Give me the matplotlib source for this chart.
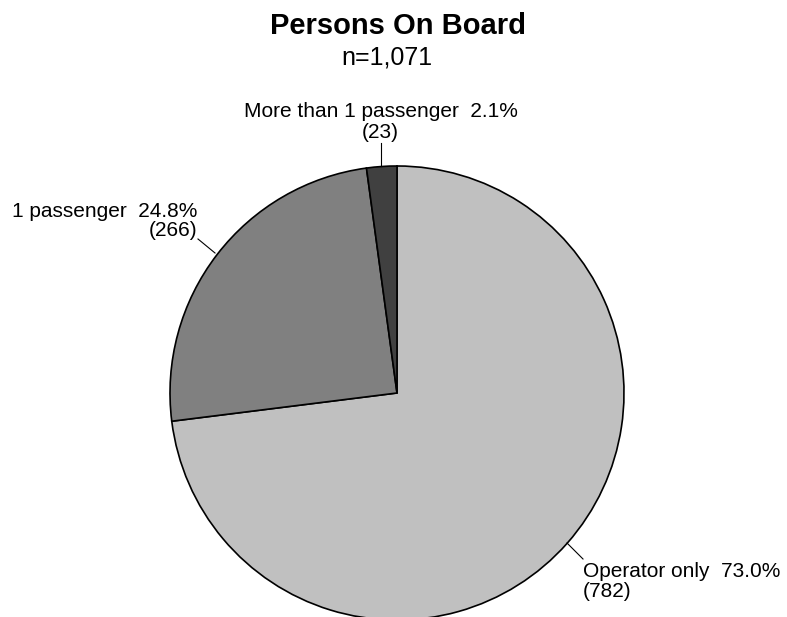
import matplotlib
matplotlib.use("Agg")
import matplotlib.pyplot as plt

plt.rcParams['font.family'] = ['Liberation Sans', 'DejaVu Sans']

categories = ["Operator only", "1 passenger", "More than 1 passenger"]
counts = [782, 266, 23]
percents = ["73.0%", "24.8%", "2.1%"]
colors = ["#c0c0c0", "#808080", "#404040"]
total_label = "n=1,071"

W, H = 787, 617
fig = plt.figure(figsize=(W / 100, H / 100), dpi=100)
ax = fig.add_axes([0, 0, 1, 1])

cx, cy, r = 397, H - 393, 227
ax.pie(counts, colors=colors, startangle=90, counterclock=False,
       center=(cx, cy), radius=r,
       wedgeprops=dict(edgecolor="black", linewidth=1.2), frame=False)
ax.set_xlim(0, W)
ax.set_ylim(0, H)
ax.set_aspect("equal")
ax.axis("off")

ax.text(398, H - 34, "Persons On Board", ha="center", va="baseline",
        fontsize=21, fontweight="bold")
ax.text(387, H - 65, total_label, ha="center", va="baseline", fontsize=18)

fs = 15
# Operator only
ax.plot([567, 583], [H - 543, H - 559], color="black", lw=0.8)
ax.text(583, H - 577, f"{categories[0]}  {percents[0]}", ha="left", va="baseline", fontsize=fs)
ax.text(583, H - 597, f"({counts[0]})", ha="left", va="baseline", fontsize=fs)

# 1 passenger
ax.plot([198, 215], [H - 239, H - 253], color="black", lw=0.8)
ax.text(197, H - 217, f"{categories[1]}  {percents[1]}", ha="right", va="baseline", fontsize=fs)
ax.text(197, H - 236, f"({counts[1]})", ha="right", va="baseline", fontsize=fs)

# More than 1 passenger
ax.plot([381, 381], [H - 143, H - 166], color="black", lw=0.8)
ax.text(518, H - 117, f"{categories[2]}  {percents[2]}", ha="right", va="baseline", fontsize=fs)
ax.text(380, H - 138, f"({counts[2]})", ha="center", va="baseline", fontsize=fs)

fig.savefig("out.png", dpi=100)
